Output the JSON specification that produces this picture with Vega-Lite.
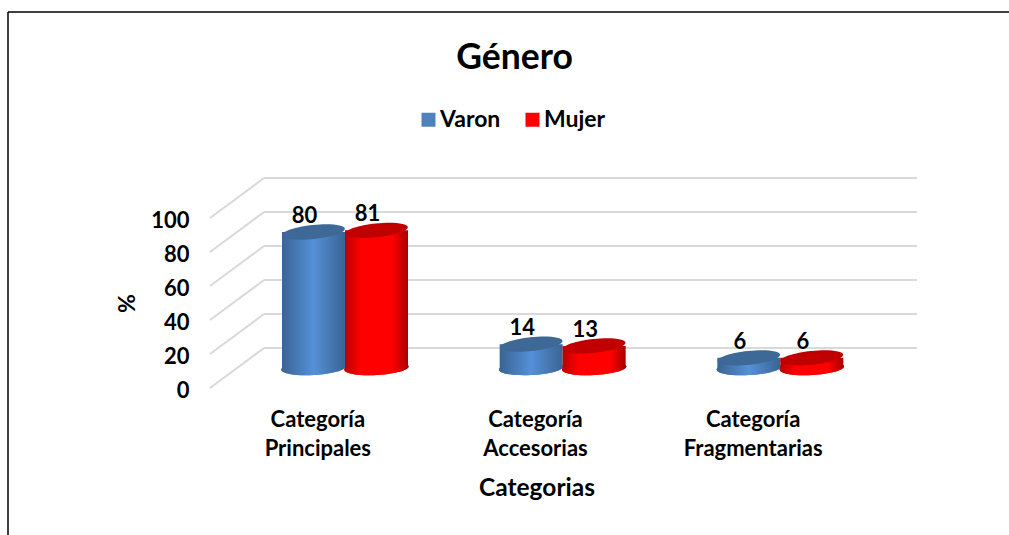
{
"$schema":"https://vega.github.io/schema/vega-lite/v6.json",
"width":653,"height":170,
"autosize":{"type":"none"},
"padding":{"left":210,"top":218,"right":146,"bottom":147},
"background":"white",
"config":{"view":{"stroke":null},"font":"Lato"},
"title":{"text":"Género","font":"Lato","fontSize":35.5,"fontWeight":"bold","color":"black","anchor":"middle","dx":-22,"offset":0,"dy":65},
"data":{"values":[
{"categoria":"Categoría Principales","serie":"Varon","valor":80},
{"categoria":"Categoría Principales","serie":"Mujer","valor":81},
{"categoria":"Categoría Accesorias","serie":"Varon","valor":14},
{"categoria":"Categoría Accesorias","serie":"Mujer","valor":13},
{"categoria":"Categoría Fragmentarias","serie":"Varon","valor":6},
{"categoria":"Categoría Fragmentarias","serie":"Mujer","valor":6}
]},
"encoding":{
"x":{"field":"categoria","type":"nominal","sort":null,"scale":{"domain":["Categoría Principales","Categoría Accesorias","Categoría Fragmentarias"],"paddingInner":0,"paddingOuter":0},
"axis":{"title":"Categorias","titleFont":"Lato","titleFontSize":24.5,"titleFontWeight":"bold","titleColor":"black","titlePadding":17,"labelAngle":0,"labelFont":"Lato","labelFontSize":22,"labelFontWeight":"bold","labelColor":"black","labelPadding":21,"labelLineHeight":29,"labelOffset":-1,"labelExpr":"split(datum.label,' ')","domain":false,"ticks":false,"grid":false}},
"xOffset":{"field":"serie","type":"nominal","scale":{"domain":["Varon","Mujer"],"range":[72,198],"paddingInner":0,"paddingOuter":0}},
"y":{"field":"valor","type":"quantitative","stack":null,"scale":{"domain":[0,100],"nice":false},
"axis":{"title":"%","titleFont":"Lato","titleFontSize":23,"titleFontWeight":"bold","titleColor":"black","titlePadding":11,"values":[0,20,40,60,80,100],"labelFont":"Lato","labelFontSize":22,"labelFontWeight":"bold","labelColor":"black","labelPadding":21,"labelOffset":2,"domain":false,"ticks":false,"grid":false}}
},
"layer":[
{"data":{"values":[{"v":0,"fondo":23.5},{"v":20,"fondo":43.5},{"v":40,"fondo":63.5},{"v":60,"fondo":83.5},{"v":80,"fondo":103.5},{"v":100,"fondo":123.5}]},
 "mark":{"type":"rule","color":"#d9d9d9","strokeWidth":2},
 "encoding":{"xOffset":null,"x":{"value":0},"x2":{"value":54},"y":{"field":"v","type":"quantitative"},"y2":{"field":"fondo"}}},
{"data":{"values":[{"v":0},{"v":20},{"v":40},{"v":60},{"v":80},{"v":100}]},
 "mark":{"type":"rule","color":"#d9d9d9","strokeWidth":2,"yOffset":-40},
 "encoding":{"xOffset":null,"x":{"value":54},"x2":{"value":707},"y":{"field":"v","type":"quantitative"}}},
{"data":{"values":[{"f":"marco"}]},"mark":{"type":"rule","color":"black","strokeWidth":1.5},
 "encoding":{"xOffset":null,"y":{"value":-206},"x":{"value":-202},"x2":{"value":799}}},
{"data":{"values":[{"f":"marco"}]},"mark":{"type":"rule","color":"black","strokeWidth":1.5},
 "encoding":{"xOffset":null,"x":{"value":-202},"y":{"value":-206},"y2":{"value":317}}},
{"mark":{"type":"point","filled":true,"opacity":1,"size":4160,"angle":-3,"yOffset":-20,"shape":"M-1,0 A1,0.22 0 1 1 1,0 A1,0.22 0 1 1 -1,0 Z"},
 "encoding":{"y":{"datum":0},"color":{"field":"serie","type":"nominal","scale":{"domain":["Varon","Mujer"],"range":["#4f81bd","#ff0000"]},
   "legend":{"title":null,"orient":"none","legendX":207,"legendY":-110,"direction":"horizontal","symbolType":"square","symbolSize":196,"symbolOpacity":1,"labelFont":"Lato","labelFontSize":23,"labelFontWeight":"bold","labelColor":"black","columnPadding":20,"labelOffset":0,"symbolStrokeWidth":0}}}},
{"transform":[{"filter":"datum.serie==='Varon'"}],
 "mark":{"type":"point","filled":true,"opacity":1,"size":4160,"angle":-3,"yOffset":-20,"shape":"M-1,0 A1,0.22 0 1 1 1,0 A1,0.22 0 1 1 -1,0 Z","color":{"gradient":"linear","x1":0,"y1":0,"x2":1,"y2":0,"stops":[{"offset":0,"color":"#3a6493"},{"offset":0.5,"color":"#5590d8"},{"offset":1,"color":"#3a6493"}]}},
 "encoding":{"y":{"datum":0}}},
{"transform":[{"filter":"datum.serie==='Mujer'"}],
 "mark":{"type":"point","filled":true,"opacity":1,"size":4160,"angle":-3,"yOffset":-20,"shape":"M-1,0 A1,0.22 0 1 1 1,0 A1,0.22 0 1 1 -1,0 Z","color":{"gradient":"linear","x1":0,"y1":0,"x2":1,"y2":0,"stops":[{"offset":0,"color":"#b80000"},{"offset":0.25,"color":"#ff0000"},{"offset":0.75,"color":"#ff0000"},{"offset":1,"color":"#a80000"}]}},
 "encoding":{"y":{"datum":0}}},
{"transform":[{"filter":"datum.serie==='Varon'"}],
 "mark":{"type":"bar","yOffset":-20,"y2Offset":-20,"color":{"gradient":"linear","x1":0,"y1":0,"x2":1,"y2":0,"stops":[{"offset":0,"color":"#3a6493"},{"offset":0.5,"color":"#5590d8"},{"offset":1,"color":"#3a6493"}]}},
 "encoding":{"y2":{"datum":0}}},
{"transform":[{"filter":"datum.serie==='Mujer'"}],
 "mark":{"type":"bar","yOffset":-20,"y2Offset":-20,"color":{"gradient":"linear","x1":0,"y1":0,"x2":1,"y2":0,"stops":[{"offset":0,"color":"#b80000"},{"offset":0.25,"color":"#ff0000"},{"offset":0.75,"color":"#ff0000"},{"offset":1,"color":"#a80000"}]}},
 "encoding":{"y2":{"datum":0}}},
{"transform":[{"filter":"datum.serie==='Varon'"}],
 "mark":{"type":"point","filled":true,"opacity":1,"size":3969,"angle":-6,"yOffset":-20,"color":"#3e6896","shape":"M-1,0 A1,0.22 0 1 1 1,0 A1,0.22 0 1 1 -1,0 Z"}},
{"transform":[{"filter":"datum.serie==='Mujer'"}],
 "mark":{"type":"point","filled":true,"opacity":1,"size":3969,"angle":-6,"yOffset":-20,"color":"#c00000","shape":"M-1,0 A1,0.22 0 1 1 1,0 A1,0.22 0 1 1 -1,0 Z"}},
{"mark":{"type":"text","font":"Lato","fontSize":22,"fontWeight":"bold","color":"black","dx":-9,"dy":-36},
 "encoding":{"text":{"field":"valor","type":"quantitative"}}}
]
}
